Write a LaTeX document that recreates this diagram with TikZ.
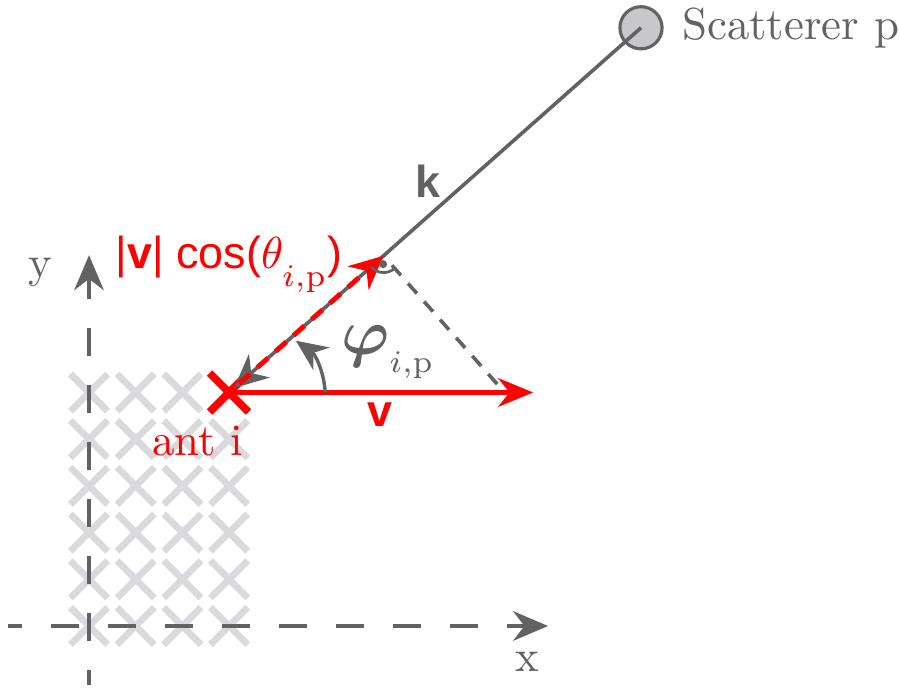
\documentclass[tikz,border=0pt]{standalone}
\usepackage{fontspec}
\usepackage{bm}
\usetikzlibrary{arrows.meta,positioning,calc,shapes.misc}
\newfontfamily\arialf{Liberation Sans}
\definecolor{darkgr}{RGB}{98,98,98}
\definecolor{lightgr}{RGB}{218,218,222}
\definecolor{antred}{RGB}{255,0,0}
\newcommand{\lowsub}[1]{\lower2.5pt\hbox{$\scriptstyle #1$}}
\tikzset{
  axisline/.style={darkgr,line width=0.8pt,dash pattern=on 6.25pt off 6.45pt,
    -{Stealth[length=7.8pt,width=6.6pt]}},
  gridant/.style={cross out,draw=lightgr,line width=1.5pt,minimum size=6.8pt,inner sep=0pt},
  redant/.style={cross out,draw=antred,line width=1.7pt,minimum size=7pt,inner sep=0pt},
  tip/.style={-{Stealth[length=7.5pt,width=7pt]}},
}

\begin{document}
\begin{tikzpicture}[x=0.366cm,y=0.366cm]
\useasboundingbox (-1.906,-1.328) rectangle (17.345,13.405);

% antenna array
\foreach \i in {0,...,3}
  \foreach \j in {0,...,4}
    \node[gridant] (g\i\j) at (\i,\j) {};
\foreach \i in {0,...,2}
  \node[gridant] (g\i5) at (\i,5) {};

\coordinate (xs) at (-1.73,0);
\coordinate (xe) at (9.83,0);
\coordinate (ys) at (0,-1.26);
\coordinate (ye) at (0,7.94);
\draw[axisline,dash phase=3.1pt] (xs) -- (xe);
\draw[axisline,dash phase=2.9pt] (ys) -- (ye);
\node[darkgr] (xl) at (9.38,-0.77) {x};
\node[darkgr] (yl) at (-1.05,7.58) {y};

\node[redant] (ant) at (3,5) {};
\node[red] (antl) at (2.33,3.96) {ant i};

\node[circle,draw=darkgr,fill=lightgr!85!darkgr,line width=0.7pt,minimum size=9.4pt,inner sep=0pt]
  (scat) at (11.82,12.81) {};
\node[darkgr,right=0.6pt of scat] (scatl) {Scatterer p};

\coordinate (vend) at (9.51,5);
\coordinate (vp) at (8.9,5);
\coordinate (foot) at ($(ant.center)!(vp)!(scat.center)$);

\draw[darkgr,line width=0.8pt,tip,shorten >=1.5pt] (scat.center) -- (ant.center);
\draw[darkgr,line width=0.8pt,dash pattern=on 3pt off 2.4pt,shorten <=2.5pt] (vp) -- (foot);
\draw[antred,line width=0.9pt,-{Stealth[length=7.8pt,width=6.4pt]}] (ant.center) -- (vend);
\draw[antred,line width=1.1pt,dash pattern=on 3.2pt off 2.2pt,tip,shorten <=3pt] (ant.center) -- (foot);

% right angle
\draw[darkgr,line width=0.6pt] ($(foot)+(221.5:0.36)$) arc[start angle=221.5,end angle=311.5,radius=0.36];
\fill[darkgr] ($(foot)+(266.5:0.18)$) circle (0.9pt);

\coordinate (phs) at (5.06,5);
\coordinate (phe) at (4.43,6.11);
\draw[darkgr,line width=0.75pt,-{Stealth[length=7pt,width=6.2pt]}] (phs) to[bend right=25] (phe);

\node[darkgr] (phil) at (6.4,5.87) {{\Large$\bm{\varphi}$}$_{\lowsub{i,\mathrm{p}}}$};
\node[red,font=\arialf\bfseries] (vl) at (6.23,4.53) {v};
\node[darkgr,font=\arialf\bfseries] (kl) at (7.26,9.53) {k};
\node[red] (projl) at (3.0,7.74) {{\arialf|\textbf{v}| cos(}$\theta_{\lowsub{i,\mathrm{p}}}${\arialf)}};
\end{tikzpicture}
\end{document}
